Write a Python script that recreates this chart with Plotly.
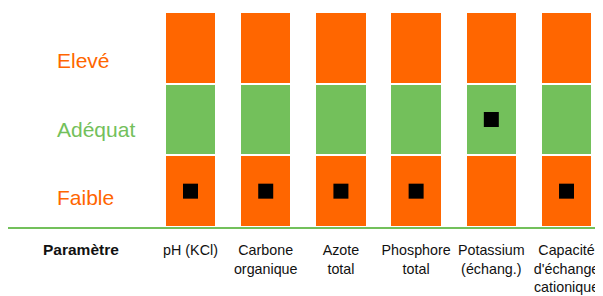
import plotly.graph_objects as go

parameters = ["pH (KCl)", "Carbone<br>organique", "Azote<br>total", "Phosphore<br>total",
              "Potassium<br>(échang.)", "Capacité<br>d'échange<br>cationique"]
levels = ["Faible", "Adéquat", "Elevé"]
level_colors = ["#FF6600", "#73C05B", "#FF6600"]
segment_height = [1, 1, 1]
# measured level index per parameter (0 = Faible, 1 = Adéquat, 2 = Elevé)
measured_level = [0, 0, 0, 0, 1, 0]

ORANGE = "#FF6600"
GREEN = "#73C05B"
FONT = "Liberation Sans, Arial, sans-serif"

fig = go.Figure()
for lvl, col, h in zip(levels, level_colors, segment_height):
    fig.add_trace(go.Bar(
        x=parameters, y=[h] * len(parameters), name=lvl,
        marker=dict(color=col, line=dict(color="white", width=2.4)),
        width=0.685, hoverinfo="skip", showlegend=False,
    ))

fig.add_trace(go.Scatter(
    x=parameters, y=[m + 0.5 for m in measured_level], mode="markers",
    marker=dict(symbol="square", size=15, color="black"),
    showlegend=False, hoverinfo="skip",
))

label_colors = [ORANGE, GREEN, ORANGE]
label_pos = [0.135, 0.455, 0.775]  # paper-y of the row labels (layout)
for lvl, col, yp in zip(levels, label_colors, label_pos):
    fig.add_annotation(x=0.079, xref="paper", y=yp, yref="paper", text=lvl,
                       showarrow=False, xanchor="left", yanchor="middle",
                       font=dict(family=FONT, size=21, color=col))

fig.add_annotation(x=0.123, xref="paper", y=-0.058, yref="paper",
                   text="<b>Paramètre</b>", showarrow=False,
                   xanchor="center", yanchor="top",
                   font=dict(family=FONT, size=15.5, color="#111111"))

fig.update_layout(
    barmode="stack", bargap=0,
    width=595, height=288,
    margin=dict(l=0, r=0, t=4, b=69, autoexpand=False),
    paper_bgcolor="white", plot_bgcolor="white",
    xaxis=dict(range=[-2.427, 5.485], showgrid=False, zeroline=False,
               showline=True, linecolor=GREEN, linewidth=2,
               ticks="outside", ticklen=9, tickcolor="rgba(0,0,0,0)",
               tickfont=dict(family=FONT, size=14.3, color="#111111"),
               tickangle=0, automargin=False),
    yaxis=dict(range=[0, 3], showgrid=False, zeroline=False, showticklabels=False,
               showline=False),
)

fig.write_html("out.html")
